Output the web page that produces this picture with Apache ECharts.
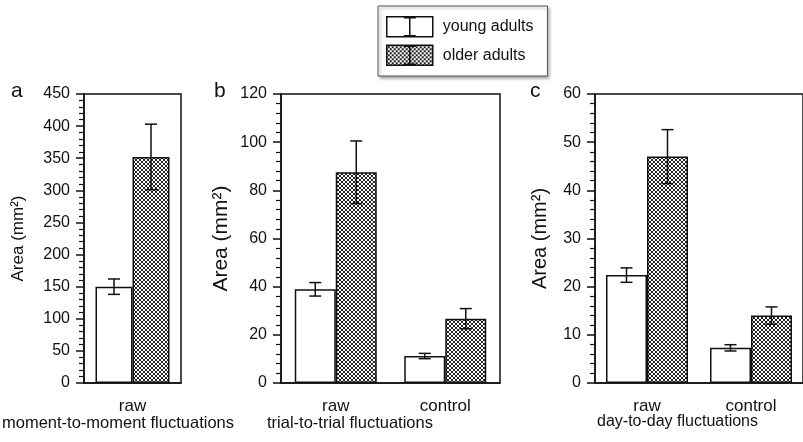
<!DOCTYPE html>
<html>
<head>
<meta charset="utf-8">
<script src="https://cdn.jsdelivr.net/npm/echarts@6/dist/echarts.min.js"></script>
<style>html,body{margin:0;padding:0;background:#fff}#c{width:803px;height:442px}</style>
</head>
<body>
<div id="c"></div>
<script>
// ---- data ----
const seriesNames = ['young adults', 'older adults'];
const categoriesA = ['raw'];
const categoriesB = ['raw', 'control'];
const categoriesC = ['raw', 'control'];
const panelLabels = ['a', 'b', 'c'];
const panelXLabels = ['moment-to-moment fluctuations', 'trial-to-trial fluctuations', 'day-to-day fluctuations'];
const yAxisTitle = 'Area (mm²)';

const youngA = [150];
const youngAErr = [12];
const olderA = [352];
const olderAErr = [51];

const youngB = [38.9, 11.2];
const youngBErr = [2.8, 1.1];
const olderB = [87.5, 26.7];
const olderBErr = [13, 4.2];

const youngC = [22.4, 7.3];
const youngCErr = [1.5, 0.65];
const olderC = [47.0, 14.0];
const olderCErr = [5.6, 1.8];

const yMax = [450, 120, 60];
const yInterval = [50, 20, 10];

// ---- style helpers ----
const INK = '#111';
function hatchCanvas() {
  const c = document.createElement('canvas');
  c.width = 4; c.height = 4;
  const g = c.getContext('2d');
  g.fillStyle = '#fff'; g.fillRect(0, 0, 4, 4);
  g.strokeStyle = '#222'; g.lineWidth = 1;
  g.beginPath();
  g.moveTo(-1, -1); g.lineTo(5, 5);
  g.moveTo(-1, 5); g.lineTo(5, -1);
  g.moveTo(-1, 3); g.lineTo(1, 5);
  g.moveTo(3, -1); g.lineTo(5, 1);
  g.moveTo(-1, 1); g.lineTo(1, -1);
  g.moveTo(3, 5); g.lineTo(5, 3);
  g.stroke();
  return c;
}
const hatch = { image: hatchCanvas(), repeat: 'repeat' };

const grids = [
  { left: 84, top: 94, width: 97, height: 289 },
  { left: 281, top: 94, width: 219, height: 289 },
  { left: 595, top: 94, width: 216, height: 289 }
];
const barWidths = [37, 41, 41];
const nameFont = [17, 21, 20];
const nameGaps = [57, 49, 45];
const cats = [categoriesA, categoriesB, categoriesC];
const youngs = [youngA, youngB, youngC];
const youngErrs = [youngAErr, youngBErr, youngCErr];
const olders = [olderA, olderB, olderC];
const olderErrs = [olderAErr, olderBErr, olderCErr];

const xAxes = [], yAxes = [], series = [];
for (let i = 0; i < 3; i++) {
  xAxes.push({
    type: 'category', gridIndex: i, data: cats[i],
    axisLine: { lineStyle: { color: INK, width: 1.5 } },
    axisTick: { length: 10, lineStyle: { color: INK, width: 1.5 } },
    axisLabel: { color: INK, fontSize: 17, margin: 15, fontFamily: 'Liberation Sans, Arial, sans-serif' }
  });
  yAxes.push({
    type: 'value', gridIndex: i, min: 0, max: yMax[i], interval: yInterval[i],
    axisLine: { show: true, lineStyle: { color: INK, width: 1.5 } },
    axisTick: { show: true, length: 8, lineStyle: { color: INK, width: 1.5 } },
    minorTick: { show: true, splitNumber: 5, length: 5, lineStyle: { color: INK, width: 1.2 } },
    splitLine: { show: false },
    axisLabel: { color: INK, fontSize: 16, margin: 14, fontFamily: 'Liberation Sans, Arial, sans-serif' },
    name: yAxisTitle, nameLocation: 'middle', nameGap: nameGaps[i],
    nameTextStyle: { color: INK, fontSize: nameFont[i], fontFamily: 'Liberation Sans, Arial, sans-serif' }
  });
  series.push({
    name: seriesNames[0], type: 'bar', xAxisIndex: i, yAxisIndex: i,
    data: youngs[i], barWidth: barWidths[i], barGap: '0%',
    itemStyle: { color: '#fff', borderColor: INK, borderWidth: 1.5 }
  });
  series.push({
    name: seriesNames[1], type: 'bar', xAxisIndex: i, yAxisIndex: i,
    data: olders[i], barWidth: barWidths[i], barGap: '0%',
    itemStyle: { color: hatch, borderColor: INK, borderWidth: 1.5 }
  });
}
function errSeries(i, name, vals, errs, side) {
  return {
    name: name, type: 'custom', xAxisIndex: i, yAxisIndex: i, z: 5,
    data: vals.map((v, k) => [k, v, errs[k]]),
    renderItem: function (params, api) {
      const idx = api.value(0), m = api.value(1), e = api.value(2);
      const off = side * barWidths[i] / 2;
      const top = api.coord([idx, m + e]);
      const bot = api.coord([idx, m - e]);
      const x = top[0] + off;
      const hw = 6;
      const st = { stroke: INK, lineWidth: 1.5 };
      return {
        type: 'group', children: [
          { type: 'line', shape: { x1: x, y1: top[1], x2: x, y2: bot[1] }, style: st },
          { type: 'line', shape: { x1: x - hw, y1: top[1], x2: x + hw, y2: top[1] }, style: st },
          { type: 'line', shape: { x1: x - hw, y1: bot[1], x2: x + hw, y2: bot[1] }, style: st }
        ]
      };
    }
  };
}
for (let i = 0; i < 3; i++) {
  series.push(errSeries(i, seriesNames[0], youngs[i], youngErrs[i], -1));
  series.push(errSeries(i, seriesNames[1], olders[i], olderErrs[i], 1));
}

const iconPath = 'path://M0,0H46V20H0ZM23,0V20M17,1H29M17,19H29';
const labelFont = 'Liberation Sans, Arial, sans-serif';
const option = {
  animation: false,
  backgroundColor: '#fff',
  grid: grids.map(g => Object.assign({ show: true, borderColor: INK, borderWidth: 1.5, backgroundColor: 'transparent' }, g)),
  xAxis: xAxes,
  yAxis: yAxes,
  legend: {
    orient: 'vertical', left: 378, top: 6,
    padding: [10, 14, 10, 8], itemGap: 7, itemWidth: 46, itemHeight: 20,
    backgroundColor: '#fff', borderColor: '#555', borderWidth: 1,
    shadowBlur: 3, shadowOffsetX: 2, shadowOffsetY: 2, shadowColor: 'rgba(0,0,0,0.35)',
    textStyle: { color: INK, fontSize: 16, fontFamily: labelFont, padding: [0, 0, 0, 5] },
    data: [
      { name: seriesNames[0], icon: iconPath, itemStyle: { color: '#fff', borderColor: INK, borderWidth: 1.5 } },
      { name: seriesNames[1], icon: iconPath, itemStyle: { color: hatch, borderColor: INK, borderWidth: 1.5 } }
    ]
  },
  graphic: [
    { type: 'text', left: 11, top: 81, style: { text: panelLabels[0], font: '21px ' + labelFont, fill: INK } },
    { type: 'text', left: 214, top: 81, style: { text: panelLabels[1], font: '21px ' + labelFont, fill: INK } },
    { type: 'text', left: 530, top: 81, style: { text: panelLabels[2], font: '21px ' + labelFont, fill: INK } },
    { type: 'text', left: 2, top: 415, style: { text: panelXLabels[0], font: '16.5px ' + labelFont, fill: INK } },
    { type: 'text', left: 267, top: 415, style: { text: panelXLabels[1], font: '16.5px ' + labelFont, fill: INK } },
    { type: 'text', left: 597, top: 414, style: { text: panelXLabels[2], font: '16px ' + labelFont, fill: INK } }
  ],
  series: series
};
const chart = echarts.init(document.getElementById('c'), null, { renderer: 'canvas' });
chart.setOption(option);
</script>
</body>
</html>
